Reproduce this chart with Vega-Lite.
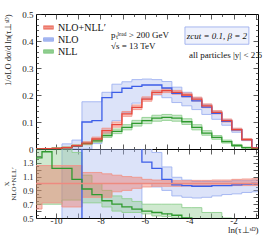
{
  "$schema": "https://vega.github.io/schema/vega-lite/v6.json",
  "padding": {"left": 1, "top": 9, "right": 9, "bottom": 0},
  "background": "white",
  "spacing": 0,
  "bounds": "flush",
  "resolve": {"scale": {"fill": "independent", "stroke": "independent", "color": "independent"}, "legend": {"fill": "independent", "stroke": "independent", "color": "independent"}},
  "config": {
    "view": {"stroke": "black", "strokeWidth": 1},
    "axis": {"domain": false, "grid": false, "labelFont": "Liberation Serif", "labelFontSize": 9, "labelColor": "#222", "tickColor": "#333", "tickWidth": 0.8, "titleFont": "Liberation Serif", "titleFontWeight": "normal", "titleColor": "#222"},
    "text": {"font": "Liberation Serif", "fontSize": 9, "color": "#111"}
  },
  "datasets": {
    "h": [
      {"s": "NLO", "c": -11.305, "v": 0, "lo": 0, "hi": 0, "r": null, "rl": null, "rh": null},
      {"s": "NLO", "c": -10.855, "v": 0, "lo": 0, "hi": 0, "r": null, "rl": null, "rh": null},
      {"s": "NLO", "c": -10.405, "v": 0, "lo": 0, "hi": 0, "r": null, "rl": null, "rh": null},
      {"s": "NLO", "c": -9.955, "v": 0, "lo": 0, "hi": 0.002, "r": 0.3, "rl": 0.3, "rh": 0.3},
      {"s": "NLO", "c": -9.505, "v": 0.005, "lo": 0, "hi": 0.019, "r": 0.3, "rl": 0.3, "rh": 3},
      {"s": "NLO", "c": -9.055, "v": 0.01, "lo": 0, "hi": 0.033, "r": 0.3, "rl": 0.3, "rh": 3},
      {"s": "NLO", "c": -8.605, "v": 0.1, "lo": 0, "hi": 0.175, "r": 3, "rl": 0.3, "rh": 3},
      {"s": "NLO", "c": -8.155, "v": 0.105, "lo": 0.02, "hi": 0.175, "r": 3, "rl": 0.3, "rh": 3},
      {"s": "NLO", "c": -7.705, "v": 0.19, "lo": 0.06, "hi": 0.21, "r": 3, "rl": 0.3, "rh": 3},
      {"s": "NLO", "c": -7.255, "v": 0.21, "lo": 0.105, "hi": 0.24, "r": 3, "rl": 0.3, "rh": 3},
      {"s": "NLO", "c": -6.805, "v": 0.225, "lo": 0.136, "hi": 0.249, "r": 3, "rl": 0.3, "rh": 3},
      {"s": "NLO", "c": -6.355, "v": 0.232, "lo": 0.17, "hi": 0.257, "r": 3, "rl": 0.3, "rh": 3},
      {"s": "NLO", "c": -5.905, "v": 0.237, "lo": 0.188, "hi": 0.259, "r": 1.31, "rl": 1.0, "rh": 1.6},
      {"s": "NLO", "c": -5.455, "v": 0.237, "lo": 0.2, "hi": 0.257, "r": 1.22, "rl": 0.95, "rh": 1.45},
      {"s": "NLO", "c": -5.005, "v": 0.226, "lo": 0.19, "hi": 0.25, "r": 1.06, "rl": 0.9, "rh": 1.24},
      {"s": "NLO", "c": -4.555, "v": 0.206, "lo": 0.172, "hi": 0.229, "r": 0.98, "rl": 0.82, "rh": 1.09},
      {"s": "NLO", "c": -4.105, "v": 0.194, "lo": 0.16, "hi": 0.21, "r": 0.97, "rl": 0.8, "rh": 1.05},
      {"s": "NLO", "c": -3.655, "v": 0.178, "lo": 0.146, "hi": 0.19, "r": 0.96, "rl": 0.79, "rh": 1.03},
      {"s": "NLO", "c": -3.205, "v": 0.155, "lo": 0.128, "hi": 0.165, "r": 0.96, "rl": 0.8, "rh": 1.03},
      {"s": "NLO", "c": -2.755, "v": 0.132, "lo": 0.11, "hi": 0.14, "r": 0.97, "rl": 0.82, "rh": 1.03},
      {"s": "NLO", "c": -2.305, "v": 0.102, "lo": 0.088, "hi": 0.109, "r": 0.97, "rl": 0.84, "rh": 1.03},
      {"s": "NLO", "c": -1.855, "v": 0.071, "lo": 0.062, "hi": 0.075, "r": 0.98, "rl": 0.85, "rh": 1.04},
      {"s": "NLO", "c": -1.405, "v": 0.035, "lo": 0.031, "hi": 0.037, "r": 0.99, "rl": 0.87, "rh": 1.04},
      {"s": "NLO", "c": -0.955, "v": 0.004, "lo": 0.003, "hi": 0.005, "r": 1.0, "rl": 0.88, "rh": 1.05},
      {"s": "NLO", "c": -0.505, "v": 0, "lo": 0, "hi": 0, "r": 1.0, "rl": 0.88, "rh": 1.05},

      {"s": "NLL", "c": -11.305, "v": 0, "lo": 0, "hi": 0, "r": 1.37, "rl": 0.7, "rh": 1.6},
      {"s": "NLL", "c": -10.855, "v": 0, "lo": 0, "hi": 0.001, "r": 1.37, "rl": 0.7, "rh": 1.6},
      {"s": "NLL", "c": -10.405, "v": 0.001, "lo": 0, "hi": 0.002, "r": 1.46, "rl": 0.7, "rh": 1.6},
      {"s": "NLL", "c": -9.955, "v": 0.002, "lo": 0.001, "hi": 0.004, "r": 1.22, "rl": 0.7, "rh": 1.6},
      {"s": "NLL", "c": -9.505, "v": 0.005, "lo": 0.003, "hi": 0.008, "r": 1.22, "rl": 0.76, "rh": 1.6},
      {"s": "NLL", "c": -9.055, "v": 0.012, "lo": 0.009, "hi": 0.016, "r": 1.06, "rl": 0.76, "rh": 1.45},
      {"s": "NLL", "c": -8.605, "v": 0.02, "lo": 0.016, "hi": 0.025, "r": 0.92, "rl": 0.72, "rh": 1.12},
      {"s": "NLL", "c": -8.155, "v": 0.03, "lo": 0.025, "hi": 0.036, "r": 0.84, "rl": 0.72, "rh": 1.0},
      {"s": "NLL", "c": -7.705, "v": 0.05, "lo": 0.043, "hi": 0.058, "r": 0.75, "rl": 0.66, "rh": 0.9},
      {"s": "NLL", "c": -7.255, "v": 0.065, "lo": 0.057, "hi": 0.074, "r": 0.7, "rl": 0.6, "rh": 0.82},
      {"s": "NLL", "c": -6.805, "v": 0.08, "lo": 0.071, "hi": 0.09, "r": 0.66, "rl": 0.58, "rh": 0.78},
      {"s": "NLL", "c": -6.355, "v": 0.095, "lo": 0.085, "hi": 0.106, "r": 0.63, "rl": 0.58, "rh": 0.74},
      {"s": "NLL", "c": -5.905, "v": 0.105, "lo": 0.094, "hi": 0.117, "r": 0.6, "rl": 0.56, "rh": 0.7},
      {"s": "NLL", "c": -5.455, "v": 0.114, "lo": 0.103, "hi": 0.125, "r": 0.58, "rl": 0.53, "rh": 0.7},
      {"s": "NLL", "c": -5.005, "v": 0.117, "lo": 0.106, "hi": 0.128, "r": 0.56, "rl": 0.52, "rh": 0.7},
      {"s": "NLL", "c": -4.555, "v": 0.114, "lo": 0.103, "hi": 0.125, "r": 0.54, "rl": 0.5, "rh": 0.7},
      {"s": "NLL", "c": -4.105, "v": 0.101, "lo": 0.091, "hi": 0.112, "r": 0.5, "rl": 0.46, "rh": 0.65},
      {"s": "NLL", "c": -3.655, "v": 0.08, "lo": 0.071, "hi": 0.09, "r": 0.44, "rl": 0.4, "rh": 0.65},
      {"s": "NLL", "c": -3.205, "v": 0.059, "lo": 0.051, "hi": 0.068, "r": 0.38, "rl": 0.35, "rh": 0.58},
      {"s": "NLL", "c": -2.755, "v": 0.043, "lo": 0.036, "hi": 0.05, "r": 0.33, "rl": 0.3, "rh": 0.58},
      {"s": "NLL", "c": -2.305, "v": 0.027, "lo": 0.022, "hi": 0.033, "r": 0.28, "rl": 0.25, "rh": 0.5},
      {"s": "NLL", "c": -1.855, "v": 0.013, "lo": 0.01, "hi": 0.017, "r": 0.25, "rl": 0.2, "rh": 0.45},
      {"s": "NLL", "c": -1.405, "v": 0.005, "lo": 0.003, "hi": 0.007, "r": 0.2, "rl": 0.15, "rh": 0.4},
      {"s": "NLL", "c": -0.955, "v": 0.001, "lo": 0, "hi": 0.002, "r": 0.2, "rl": 0.15, "rh": 0.4},
      {"s": "NLL", "c": -0.505, "v": 0, "lo": 0, "hi": 0, "r": 0.2, "rl": 0.15, "rh": 0.4},

      {"s": "NLO+NLL′", "c": -11.305, "v": 0, "lo": 0, "hi": 0, "r": 1, "rl": 0.63, "rh": 1.26},
      {"s": "NLO+NLL′", "c": -10.855, "v": 0, "lo": 0, "hi": 0.001, "r": 1, "rl": 0.63, "rh": 1.26},
      {"s": "NLO+NLL′", "c": -10.405, "v": 0.001, "lo": 0, "hi": 0.002, "r": 1, "rl": 0.72, "rh": 1.26},
      {"s": "NLO+NLL′", "c": -9.955, "v": 0.002, "lo": 0.001, "hi": 0.004, "r": 1, "rl": 0.72, "rh": 1.26},
      {"s": "NLO+NLL′", "c": -9.505, "v": 0.005, "lo": 0.003, "hi": 0.007, "r": 1, "rl": 0.66, "rh": 1.26},
      {"s": "NLO+NLL′", "c": -9.055, "v": 0.012, "lo": 0.009, "hi": 0.015, "r": 1, "rl": 0.66, "rh": 1.26},
      {"s": "NLO+NLL′", "c": -8.605, "v": 0.022, "lo": 0.017, "hi": 0.027, "r": 1, "rl": 0.8, "rh": 1.16},
      {"s": "NLO+NLL′", "c": -8.155, "v": 0.037, "lo": 0.03, "hi": 0.044, "r": 1, "rl": 0.8, "rh": 1.16},
      {"s": "NLO+NLL′", "c": -7.705, "v": 0.068, "lo": 0.059, "hi": 0.077, "r": 1, "rl": 0.8, "rh": 1.14},
      {"s": "NLO+NLL′", "c": -7.255, "v": 0.09, "lo": 0.081, "hi": 0.1, "r": 1, "rl": 0.88, "rh": 1.12},
      {"s": "NLO+NLL′", "c": -6.805, "v": 0.13, "lo": 0.121, "hi": 0.139, "r": 1, "rl": 0.9, "rh": 1.1},
      {"s": "NLO+NLL′", "c": -6.355, "v": 0.154, "lo": 0.146, "hi": 0.163, "r": 1, "rl": 0.93, "rh": 1.09},
      {"s": "NLO+NLL′", "c": -5.905, "v": 0.185, "lo": 0.177, "hi": 0.193, "r": 1, "rl": 0.95, "rh": 1.06},
      {"s": "NLO+NLL′", "c": -5.455, "v": 0.21, "lo": 0.202, "hi": 0.217, "r": 1, "rl": 0.96, "rh": 1.05},
      {"s": "NLO+NLL′", "c": -5.005, "v": 0.216, "lo": 0.209, "hi": 0.223, "r": 1, "rl": 0.96, "rh": 1.04},
      {"s": "NLO+NLL′", "c": -4.555, "v": 0.21, "lo": 0.203, "hi": 0.217, "r": 1, "rl": 0.96, "rh": 1.04},
      {"s": "NLO+NLL′", "c": -4.105, "v": 0.2, "lo": 0.193, "hi": 0.207, "r": 1, "rl": 0.965, "rh": 1.04},
      {"s": "NLO+NLL′", "c": -3.655, "v": 0.185, "lo": 0.178, "hi": 0.192, "r": 1, "rl": 0.965, "rh": 1.045},
      {"s": "NLO+NLL′", "c": -3.205, "v": 0.16, "lo": 0.153, "hi": 0.167, "r": 1, "rl": 0.965, "rh": 1.045},
      {"s": "NLO+NLL′", "c": -2.755, "v": 0.136, "lo": 0.13, "hi": 0.142, "r": 1, "rl": 0.97, "rh": 1.05},
      {"s": "NLO+NLL′", "c": -2.305, "v": 0.105, "lo": 0.1, "hi": 0.111, "r": 1, "rl": 0.97, "rh": 1.05},
      {"s": "NLO+NLL′", "c": -1.855, "v": 0.072, "lo": 0.068, "hi": 0.077, "r": 1, "rl": 0.97, "rh": 1.06},
      {"s": "NLO+NLL′", "c": -1.405, "v": 0.035, "lo": 0.032, "hi": 0.039, "r": 1, "rl": 0.97, "rh": 1.065},
      {"s": "NLO+NLL′", "c": -0.955, "v": 0.004, "lo": 0.003, "hi": 0.005, "r": 1, "rl": 0.97, "rh": 1.07},
      {"s": "NLO+NLL′", "c": -0.505, "v": 0, "lo": 0, "hi": 0, "r": 1, "rl": 0.97, "rh": 1.07}
    ]
  },
  "vconcat": [
    {
      "width": 222,
      "height": 135,
      "data": {"name": "h"},
      "resolve": {"axis": {"x": "independent", "y": "independent"}},
      "layer": [
        {
          "mark": {"type": "area", "interpolate": "step", "fillOpacity": 0.4, "strokeWidth": 0.9, "clip": true},
          "encoding": {
            "x": {"field": "c", "type": "quantitative", "scale": {"domain": [-10.9, -0.9], "nice": false, "zero": false},
                  "axis": {"orient": "bottom", "values": [-10, -9, -8, -7, -6, -5, -4, -3, -2, -1], "labels": false, "tickSize": -5, "title": null}},
            "y": {"field": "lo", "type": "quantitative", "scale": {"domain": [0, 0.5], "nice": false},
                  "axis": {"orient": "left", "values": [0, 0.1, 0.2, 0.3, 0.4, 0.5], "format": "~g", "tickSize": -5, "labelPadding": 8, "title": "1/σLO dσ/d ln(τ⊥ˢᴰ)", "titleAnchor": "end", "titleFontSize": 8.5, "titlePadding": 9}},
            "y2": {"field": "hi"},
            "fill": {"field": "s", "type": "nominal", "scale": {"domain": ["NLO+NLL′", "NLO", "NLL"], "range": ["#ed6b5a", "#a7b9f0", "#87c887"]},
                     "legend": {"orient": "none", "legendX": 7, "legendY": 8, "title": null, "symbolType": "M-1,-0.33H1V0.33H-1Z M-1,0H1", "symbolSize": 100, "symbolStrokeWidth": 1, "labelFont": "Liberation Serif", "labelFontSize": 10, "labelColor": "#111", "rowPadding": 1, "labelOffset": 4}},
            "stroke": {"field": "s", "type": "nominal", "scale": {"domain": ["NLO+NLL′", "NLO", "NLL"], "range": ["#f0958a", "#9fb2f0", "#8fcf8f"]},
                     "legend": {"orient": "none", "legendX": 7, "legendY": 8, "title": null, "symbolType": "M-1,-0.33H1V0.33H-1Z M-1,0H1", "symbolSize": 100, "symbolStrokeWidth": 1, "labelFont": "Liberation Serif", "labelFontSize": 10, "labelColor": "#111", "rowPadding": 1, "labelOffset": 4}}
          }
        },
        {
          "mark": {"type": "line", "interpolate": "step", "strokeWidth": 1.3, "clip": true},
          "encoding": {
            "x": {"field": "c", "type": "quantitative", "scale": {"domain": [-10.9, -0.9], "nice": false, "zero": false}, "axis": null},
            "y": {"field": "v", "type": "quantitative", "scale": {"domain": [0, 0.5], "nice": false}, "axis": null},
            "color": {"field": "s", "type": "nominal", "scale": {"domain": ["NLO+NLL′", "NLO", "NLL"], "range": ["#e8473b", "#3c5ee8", "#2f9a2f"]}, "legend": null}
          }
        },
        {
          "mark": {"type": "point", "opacity": 0},
          "encoding": {
            "x": {"field": "c", "type": "quantitative", "scale": {"domain": [-10.9, -0.9], "nice": false, "zero": false},
                  "axis": {"orient": "bottom", "values": [-10.5, -9.5, -8.5, -7.5, -6.5, -5.5, -4.5, -3.5, -2.5, -1.5], "labels": false, "tickSize": -2.5, "title": null}},
            "y": {"field": "v", "type": "quantitative", "scale": {"domain": [0, 0.5], "nice": false},
                  "axis": {"orient": "left", "values": [0.02, 0.04, 0.06, 0.08, 0.12, 0.14, 0.16, 0.18, 0.22, 0.24, 0.26, 0.28, 0.32, 0.34, 0.36, 0.38, 0.42, 0.44, 0.46, 0.48], "labels": false, "tickSize": -2.5, "title": null}}
          }
        },
        {
          "mark": {"type": "point", "opacity": 0},
          "encoding": {
            "x": {"field": "c", "type": "quantitative", "scale": {"domain": [-10.9, -0.9], "nice": false, "zero": false},
                  "axis": {"orient": "top", "values": [-10, -9, -8, -7, -6, -5, -4, -3, -2, -1], "labels": false, "tickSize": -5, "title": null}},
            "y": {"field": "v", "type": "quantitative", "scale": {"domain": [0, 0.5], "nice": false},
                  "axis": {"orient": "right", "values": [0.1, 0.2, 0.3, 0.4], "labels": false, "tickSize": -5, "title": null}}
          }
        },
        {
          "mark": {"type": "point", "opacity": 0},
          "encoding": {
            "x": {"field": "c", "type": "quantitative", "scale": {"domain": [-10.9, -0.9], "nice": false, "zero": false},
                  "axis": {"orient": "top", "values": [-10.5, -9.5, -8.5, -7.5, -6.5, -5.5, -4.5, -3.5, -2.5, -1.5], "labels": false, "tickSize": -2.5, "title": null}},
            "y": {"field": "v", "type": "quantitative", "scale": {"domain": [0, 0.5], "nice": false},
                  "axis": {"orient": "right", "values": [0.02, 0.04, 0.06, 0.08, 0.12, 0.14, 0.16, 0.18, 0.22, 0.24, 0.26, 0.28, 0.32, 0.34, 0.36, 0.38, 0.42, 0.44, 0.46, 0.48], "labels": false, "tickSize": -2.5, "title": null}}
          }
        },
        {
          "data": {"values": [{}]},
          "mark": {"type": "rect", "fill": "#eef1fc", "stroke": "#93a6ec", "strokeWidth": 0.8},
          "encoding": {
            "x": {"datum": -4.19, "type": "quantitative", "scale": {"domain": [-10.9, -0.9], "nice": false, "zero": false}, "axis": null},
            "x2": {"datum": -1.31},
            "y": {"datum": 0.452, "type": "quantitative", "scale": {"domain": [0, 0.5], "nice": false}, "axis": null},
            "y2": {"datum": 0.388}
          }
        },
        {
          "data": {"values": [{}]},
          "mark": {"type": "text", "align": "center", "baseline": "middle", "fontStyle": "italic"},
          "encoding": {
            "x": {"datum": -2.75, "type": "quantitative", "scale": {"domain": [-10.9, -0.9], "nice": false, "zero": false}, "axis": null},
            "y": {"datum": 0.42, "type": "quantitative", "scale": {"domain": [0, 0.5], "nice": false}, "axis": null},
            "text": {"value": "zcut = 0.1, β = 2"}
          }
        },
        {
          "data": {"values": [{}]},
          "mark": {"type": "text", "align": "left", "baseline": "middle"},
          "encoding": {
            "x": {"datum": -7.52, "type": "quantitative", "scale": {"domain": [-10.9, -0.9], "nice": false, "zero": false}, "axis": null},
            "y": {"datum": 0.421, "type": "quantitative", "scale": {"domain": [0, 0.5], "nice": false}, "axis": null},
            "text": {"value": "pₜˡᵉᵃᵈ > 200 GeV"}
          }
        },
        {
          "data": {"values": [{}]},
          "mark": {"type": "text", "align": "left", "baseline": "middle"},
          "encoding": {
            "x": {"datum": -7.52, "type": "quantitative", "scale": {"domain": [-10.9, -0.9], "nice": false, "zero": false}, "axis": null},
            "y": {"datum": 0.38, "type": "quantitative", "scale": {"domain": [0, 0.5], "nice": false}, "axis": null},
            "text": {"value": "√s = 13 TeV"}
          }
        },
        {
          "data": {"values": [{}]},
          "mark": {"type": "text", "align": "right", "baseline": "middle"},
          "encoding": {
            "x": {"datum": -0.72, "type": "quantitative", "scale": {"domain": [-10.9, -0.9], "nice": false, "zero": false}, "axis": null},
            "y": {"datum": 0.35, "type": "quantitative", "scale": {"domain": [0, 0.5], "nice": false}, "axis": null},
            "text": {"value": "all particles |y| < 2.6"}
          }
        }
      ]
    },
    {
      "width": 222,
      "height": 69,
      "data": {"name": "h"},
      "transform": [{"filter": {"field": "r", "valid": true}}],
      "resolve": {"axis": {"x": "independent", "y": "independent"}},
      "layer": [
        {
          "mark": {"type": "area", "interpolate": "step", "fillOpacity": 0.4, "strokeWidth": 0.9, "clip": true},
          "encoding": {
            "x": {"field": "c", "type": "quantitative", "scale": {"domain": [-10.9, -0.9], "nice": false, "zero": false},
                  "axis": {"orient": "bottom", "values": [-10, -9, -8, -7, -6, -5, -4, -3, -2, -1], "labelExpr": "datum.value % 2 == 0 ? '-' + abs(datum.value) : ''", "tickSize": -5, "labelPadding": 3, "title": "ln(τ⊥ˢᴰ)", "titleAnchor": "end", "titleFontSize": 9, "titlePadding": 0}},
            "y": {"field": "rl", "type": "quantitative", "scale": {"domain": [0.5, 1.5], "nice": false, "zero": false},
                  "axis": {"orient": "left", "values": [0.5, 0.6, 0.7, 0.8, 0.9, 1, 1.1, 1.2, 1.3, 1.4], "format": "~g", "tickSize": -5, "labelPadding": 8, "labelFontSize": 8.5, "title": ["X", "NLO+NLL′"], "titleFontSize": 7, "titlePadding": 6, "titleLineHeight": 7}},
            "y2": {"field": "rh"},
            "fill": {"field": "s", "type": "nominal", "scale": {"domain": ["NLO+NLL′", "NLO", "NLL"], "range": ["#ed6b5a", "#a7b9f0", "#87c887"]}, "legend": null},
            "stroke": {"field": "s", "type": "nominal", "scale": {"domain": ["NLO+NLL′", "NLO", "NLL"], "range": ["#f0958a", "#9fb2f0", "#8fcf8f"]}, "legend": null}
          }
        },
        {
          "mark": {"type": "line", "interpolate": "step", "strokeWidth": 1.3, "clip": true},
          "encoding": {
            "x": {"field": "c", "type": "quantitative", "scale": {"domain": [-10.9, -0.9], "nice": false, "zero": false}, "axis": null},
            "y": {"field": "r", "type": "quantitative", "scale": {"domain": [0.5, 1.5], "nice": false, "zero": false}, "axis": null},
            "color": {"field": "s", "type": "nominal", "scale": {"domain": ["NLO+NLL′", "NLO", "NLL"], "range": ["#ee8a80", "#3c5ee8", "#2f9a2f"]}, "legend": null}
          }
        },
        {
          "mark": {"type": "point", "opacity": 0},
          "encoding": {
            "x": {"field": "c", "type": "quantitative", "scale": {"domain": [-10.9, -0.9], "nice": false, "zero": false},
                  "axis": {"orient": "bottom", "values": [-10.5, -9.5, -8.5, -7.5, -6.5, -5.5, -4.5, -3.5, -2.5, -1.5], "labels": false, "tickSize": -2.5, "title": null}},
            "y": {"field": "r", "type": "quantitative", "scale": {"domain": [0.5, 1.5], "nice": false, "zero": false},
                  "axis": {"orient": "left", "values": [0.55, 0.65, 0.75, 0.85, 0.95, 1.05, 1.15, 1.25, 1.35, 1.45], "labels": false, "tickSize": -2.5, "title": null}}
          }
        },
        {
          "mark": {"type": "point", "opacity": 0},
          "encoding": {
            "x": {"field": "c", "type": "quantitative", "scale": {"domain": [-10.9, -0.9], "nice": false, "zero": false},
                  "axis": {"orient": "top", "values": [-10, -9, -8, -7, -6, -5, -4, -3, -2, -1], "labels": false, "tickSize": -5, "title": null}},
            "y": {"field": "r", "type": "quantitative", "scale": {"domain": [0.5, 1.5], "nice": false, "zero": false},
                  "axis": {"orient": "right", "values": [0.6, 0.7, 0.8, 0.9, 1, 1.1, 1.2, 1.3, 1.4], "labels": false, "tickSize": -5, "title": null}}
          }
        },
        {
          "mark": {"type": "point", "opacity": 0},
          "encoding": {
            "x": {"field": "c", "type": "quantitative", "scale": {"domain": [-10.9, -0.9], "nice": false, "zero": false},
                  "axis": {"orient": "top", "values": [-10.5, -9.5, -8.5, -7.5, -6.5, -5.5, -4.5, -3.5, -2.5, -1.5], "labels": false, "tickSize": -2.5, "title": null}},
            "y": {"field": "r", "type": "quantitative", "scale": {"domain": [0.5, 1.5], "nice": false, "zero": false},
                  "axis": {"orient": "right", "values": [0.55, 0.65, 0.75, 0.85, 0.95, 1.05, 1.15, 1.25, 1.35, 1.45], "labels": false, "tickSize": -2.5, "title": null}}
          }
        }
      ]
    }
  ]
}
